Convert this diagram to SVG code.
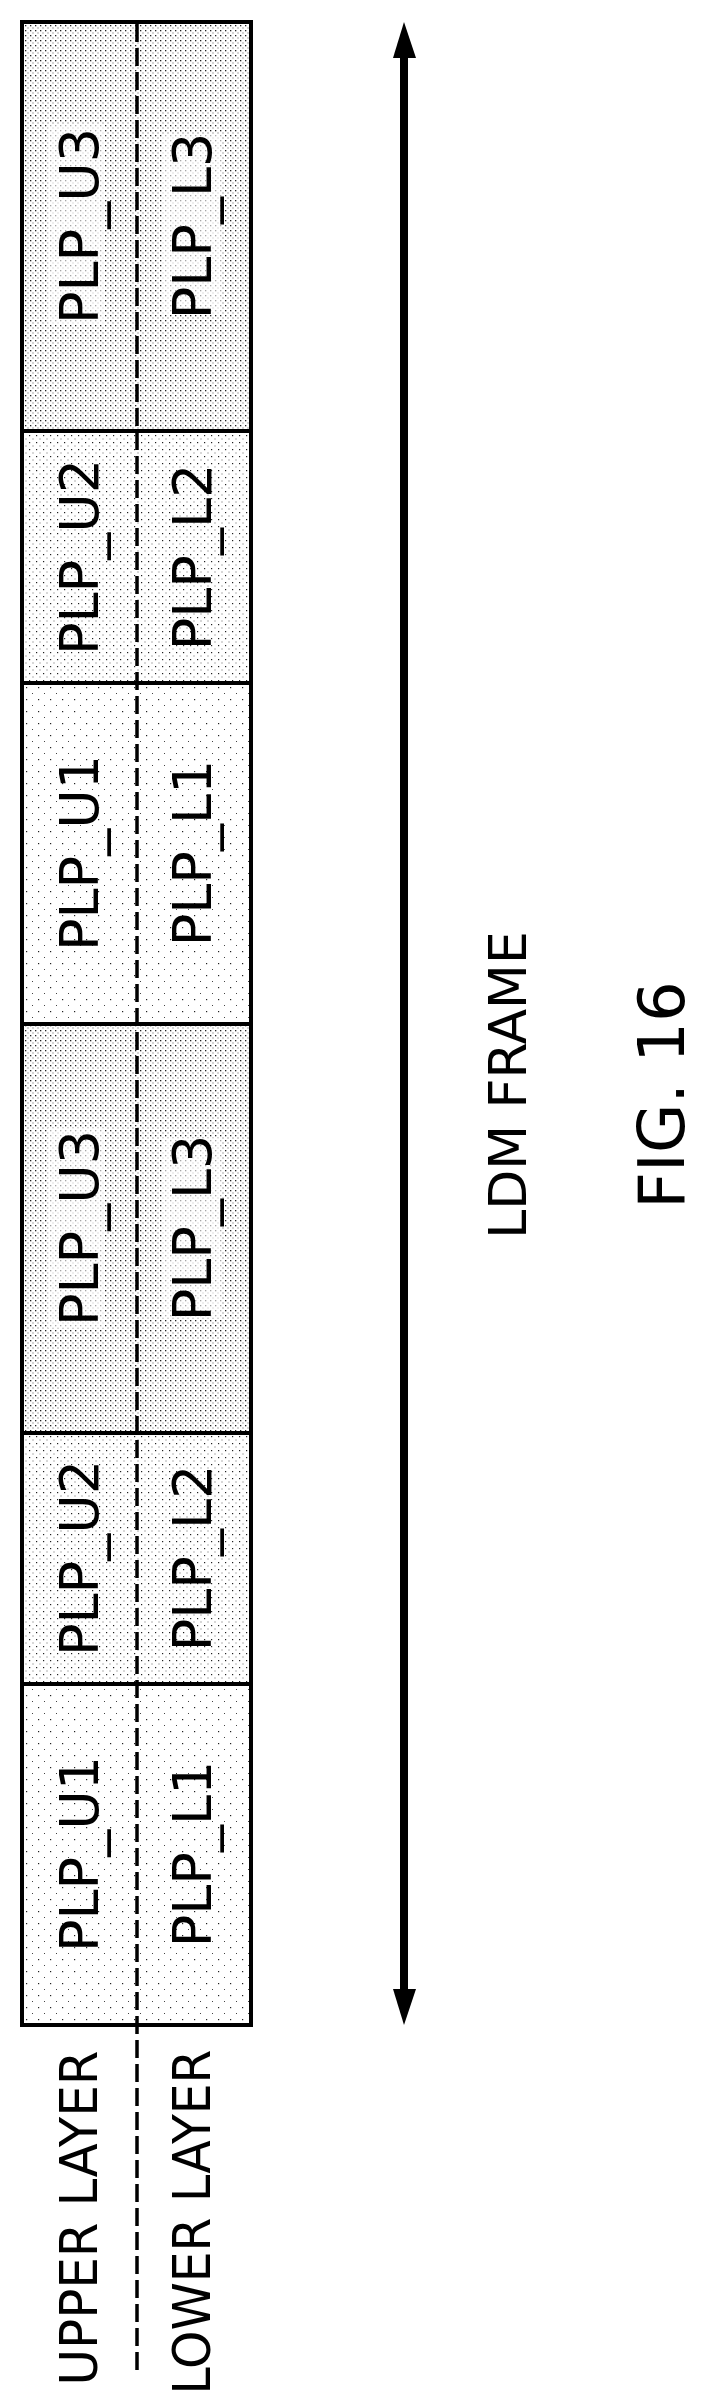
<svg xmlns="http://www.w3.org/2000/svg" width="711" height="2407" viewBox="0 0 711 2407">
<style>
.cell{stroke:#000;stroke-width:4}
.lbl{font-family:"DejaVu Sans",sans-serif;font-size:54px;fill:#000;text-anchor:middle;dominant-baseline:central}
.bg{fill:#fff;opacity:0.6}
</style>
<defs>
<pattern id="p3" width="5" height="5" patternUnits="userSpaceOnUse"><rect width="5" height="5" fill="#fff"/><rect x="0" y="0" width="1.3" height="1.3" fill="#222"/><rect x="2.5" y="2.5" width="1" height="1" fill="#555"/></pattern>
<pattern id="p2" width="7" height="7" patternUnits="userSpaceOnUse"><rect width="7" height="7" fill="#fff"/><rect x="1" y="1" width="1.2" height="1.2" fill="#222"/><rect x="4.5" y="4.5" width="1" height="1" fill="#666"/></pattern>
<pattern id="p1" width="12" height="12" patternUnits="userSpaceOnUse"><rect width="12" height="12" fill="#fff"/><rect x="2" y="3" width="1.2" height="1.2" fill="#222"/><rect x="8" y="9" width="1" height="1" fill="#444"/></pattern>
</defs>
<g id="cell-u3-a"><rect class="cell" x="22" y="22" width="229" height="409" fill="url(#p3)"/><rect class="bg" x="48" y="125" width="56" height="200"/><rect class="bg" x="162" y="135" width="60" height="180"/><text class="lbl" transform="translate(79,226) rotate(-90)">PLP_U3</text><text class="lbl" transform="translate(192,226) rotate(-90)">PLP_L3</text></g>
<g id="cell-u2-a"><rect class="cell" x="22" y="431" width="229" height="252" fill="url(#p2)"/><text class="lbl" transform="translate(79,557) rotate(-90)">PLP_U2</text><text class="lbl" transform="translate(192,557) rotate(-90)">PLP_L2</text></g>
<g id="cell-u1-a"><rect class="cell" x="22" y="683" width="229" height="341" fill="url(#p1)"/><text class="lbl" transform="translate(79,853) rotate(-90)">PLP_U1</text><text class="lbl" transform="translate(192,853) rotate(-90)">PLP_L1</text></g>
<g id="cell-u3-b"><rect class="cell" x="22" y="1024" width="229" height="409" fill="url(#p3)"/><rect class="bg" x="48" y="1128" width="56" height="200"/><rect class="bg" x="162" y="1138" width="60" height="180"/><text class="lbl" transform="translate(79,1228) rotate(-90)">PLP_U3</text><text class="lbl" transform="translate(192,1228) rotate(-90)">PLP_L3</text></g>
<g id="cell-u2-b"><rect class="cell" x="22" y="1433" width="229" height="251" fill="url(#p2)"/><text class="lbl" transform="translate(79,1558) rotate(-90)">PLP_U2</text><text class="lbl" transform="translate(192,1558) rotate(-90)">PLP_L2</text></g>
<g id="cell-u1-b"><rect class="cell" x="22" y="1684" width="229" height="341" fill="url(#p1)"/><text class="lbl" transform="translate(79,1854) rotate(-90)">PLP_U1</text><text class="lbl" transform="translate(192,1854) rotate(-90)">PLP_L1</text></g>
<g id="connectors">
<line x1="137" y1="24" x2="137" y2="2372" stroke="#000" stroke-width="3.5" stroke-dasharray="18 6"/>
<line x1="404" y1="58" x2="404" y2="1990" stroke="#000" stroke-width="8"/>
<path d="M404,22 L393,58 L416,58 z" fill="#000"/>
<path d="M404,2025 L393,1989 L416,1989 z" fill="#000"/>
</g>
<g id="labels">
<text class="lbl" style="font-size:52px" textLength="335" lengthAdjust="spacingAndGlyphs" transform="translate(79,2218) rotate(-90)">UPPER LAYER</text>
<text class="lbl" style="font-size:52px" textLength="345" lengthAdjust="spacingAndGlyphs" transform="translate(192,2222) rotate(-90)">LOWER LAYER</text>
<text class="lbl" style="font-size:52px" transform="translate(508,1085) rotate(-90)">LDM FRAME</text>
<text class="lbl" style="font-size:64px" transform="translate(662,1095) rotate(-90)">FIG. 16</text>
</g>
</svg>
